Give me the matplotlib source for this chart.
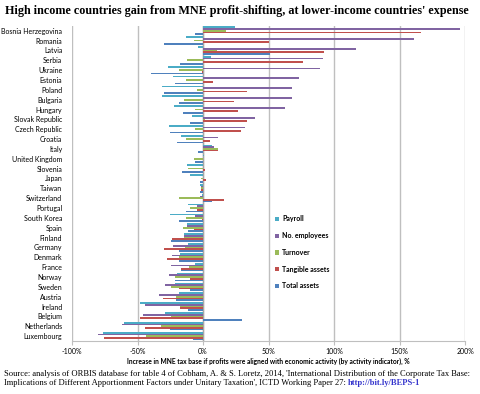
import matplotlib.pyplot as plt
import numpy as np

countries = ["Bosnia Herzegovina", "Romania", "Latvia", "Serbia", "Ukraine", "Estonia",
             "Poland", "Bulgaria", "Hungary", "Slovak Republic", "Czech Republic", "Croatia",
             "Italy", "United Kingdom", "Slovenia", "Japan", "Taiwan", "Switzerland",
             "Portugal", "South Korea", "Spain", "Finland", "Germany", "Denmark", "France",
             "Norway", "Sweden", "Austria", "Ireland", "Belgium", "Netherlands", "Luxembourg"]

payroll = [24.7, -12.7, -3.8, 6.4, -26.4, -22.9, -31, -31, -21.9, -8.1, -25.7, -16.5,
           6.9, 1, -12, -10.2, -2, -1, -11.4, -25, -12.2, -14.7, -11.7, -17.8, -6.1,
           -19.8, -21.1, -18.6, -47.8, -29.2, -60.5, -76.3]
employees = [196, 161, 117, 91.5, 89.5, 73, 68, 68, 62.8, 40, 32, 11.2,
             8.6, 0.3, -0.3, 0.2, -1.5, -2.5, -4.6, -6.1, -12.5, -14.7, -22.9, -23.6, -24.2,
             -26.2, -28.7, -33.8, -44, -46, -61.8, -80]
turnover = [17.5, -6.6, 10.7, -12, -18.6, -13, -4.6, -14.7, -5.8, 1.5, -5.8, -12.7,
            11.4, -6.6, -11.7, -1.5, -1.5, -18, -10.2, -12.7, -15.3, -14.2, -13.5, -18.6, -10.9,
            -21.1, -24.2, -20.3, -17.8, -24.2, -31.8, -43.2]
tangible = [166, 50, 92, 76, -0.8, 7.9, 33.6, 23.6, 27, 33.6, 29, 5.3,
            11.4, 0.3, 1.3, 2.3, -1.5, 15.8, -4.8, -1, -6.9, -23.9, -29.7, -27.2, -16.8,
            -9.7, -18.6, -30.8, -17.3, -48.3, -44, -75.8]
total = [-6.4, -29.5, 51, -17.3, -39.4, -21.6, -30, -18.6, -15, -9.7, -25, -19.8,
         -3.6, -5.8, -15.8, -2, -2, 6.9, -12.7, -18, -11.4, -24.7, -18, -18.6, -16.8,
         -21.1, -10.2, -20.3, -11.4, 30, -25.4, -7.9]

series = [("Payroll", payroll, "#4BACC6"),
          ("No. employees", employees, "#8064A2"),
          ("Turnover", turnover, "#9BBB59"),
          ("Tangible assets", tangible, "#C0504D"),
          ("Total assets", total, "#4F81BD")]

fig = plt.figure(figsize=(4.8, 3.94), dpi=100)
ax = fig.add_axes([0.15, 0.1345, 0.819, 0.8])
ax.set_axisbelow(True)

y = np.arange(len(countries))
h = 0.172
for k, (name, vals, col) in enumerate(series):
    ax.barh(y + (k - 2) * h, vals, height=h, color=col, label=name, zorder=3)

ax.set_xlim(-100, 200)
ax.set_ylim(len(countries) - 0.5, -0.5)
ax.set_xticks([-100, -50, 0, 50, 100, 150, 200])
ax.set_xticklabels(["-100%", "-50%", "0%", "50%", "100%", "150%", "200%"])
ax.set_yticks(y)
ax.set_yticklabels(countries)
ax.grid(axis="x", color="#BFBFBF", linewidth=1)
ax.axvline(0, color="#A6A6A6", linewidth=1, zorder=2)
for s in ["top", "right", "left"]:
    ax.spines[s].set_visible(False)
ax.spines["bottom"].set_color("#BFBFBF")
ax.tick_params(axis="y", length=0, pad=7, labelsize=5.0)
ax.tick_params(axis="x", length=3, color="#BFBFBF", labelsize=5, pad=2)
for lab in ax.get_yticklabels() + ax.get_xticklabels():
    lab.set_family("Lato")

ax.set_xlabel("Increase in MNE tax base if profits were aligned with economic activity (by activity indicator), %",
              fontsize=4.8, fontweight="bold", family="Lato", labelpad=2)

leg = ax.legend(loc="upper left", bbox_to_anchor=(0.51, 0.407), frameon=False, borderaxespad=0,
                prop={"family": "Lato", "weight": "bold", "size": 5},
                handlelength=0.6, handleheight=0.6, handletextpad=0.4, labelspacing=1.4)

fig.text(0.01, 0.972, "High income countries gain from MNE profit-shifting, at lower-income countries' expense",
         fontsize=8.75, fontweight="bold", family="Liberation Serif", va="center")

fig.text(0.008, 0.05, "Source: analysis of ORBIS database for table 4 of Cobham, A. & S. Loretz, 2014, 'International Distribution of the Corporate Tax Base:",
         fontsize=6.1, family="Liberation Serif", va="center")
t = fig.text(0.008, 0.027, "Implications of Different Apportionment Factors under Unitary Taxation', ICTD Working Paper 27: ",
             fontsize=6.1, family="Liberation Serif", va="center")
fig.canvas.draw()
bb = t.get_window_extent()
x1 = fig.transFigure.inverted().transform((bb.x1, bb.y0))[0]
fig.text(x1, 0.027, "http://bit.ly/BEPS-1", fontsize=6.1, family="Liberation Serif",
         color="#3333CC", fontweight="bold", va="center")

fig.savefig("out.png", dpi=100)
